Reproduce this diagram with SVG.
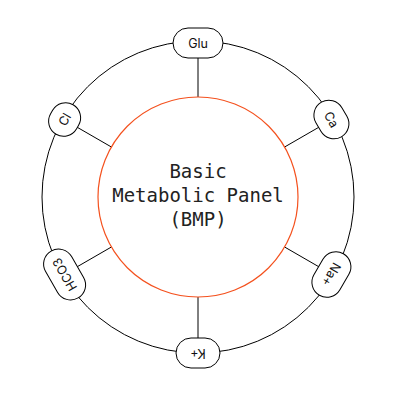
<svg xmlns="http://www.w3.org/2000/svg" width="396" height="396" viewBox="0 0 396 396">
  <style>
    .ring { fill: none; stroke: #000; stroke-width: 1; }
    .core { fill: #fff; stroke: #f4511e; stroke-width: 1.2; }
    .spoke { stroke: #000; stroke-width: 1; }
    .pill { fill: #fff; stroke: #000; stroke-width: 1; }
    .lbl { font-family: Inter, "Liberation Sans", sans-serif; font-size: 12.5px; fill: #111; text-anchor: middle; dominant-baseline: central; }
    .title { font-family: "DejaVu Sans Mono", "Liberation Mono", monospace; font-size: 19px; fill: #222; text-anchor: middle; }
  </style>
  <rect width="396" height="396" fill="#fff"/>
  <circle class="ring" cx="198" cy="197" r="156"/>
  <g id="connectors">
    <!-- spokes at 0, 60, 120, 180, 240, 300 degrees from the top -->
    <line class="spoke" x1="198" y1="97" x2="198" y2="41"/>
    <line class="spoke" x1="284.6" y1="147" x2="333.1" y2="119"/>
    <line class="spoke" x1="284.6" y1="247" x2="333.1" y2="275"/>
    <line class="spoke" x1="198" y1="297" x2="198" y2="353"/>
    <line class="spoke" x1="111.4" y1="247" x2="62.9" y2="275"/>
    <line class="spoke" x1="111.4" y1="147" x2="62.9" y2="119"/>
  </g>
  <g id="bmp">
    <circle class="core" cx="198" cy="197" r="100"/>
    <text class="title" x="198" y="178">Basic</text>
    <text class="title" x="198" y="202">Metabolic Panel</text>
    <text class="title" x="198" y="226">(BMP)</text>
  </g>
  <g id="glu" transform="translate(198,43) rotate(0)">
    <rect class="pill" x="-25" y="-15" width="50" height="30" rx="15"/>
    <text class="lbl" x="0" y="0">Glu</text>
  </g>
  <g id="ca" transform="translate(331.4,119.5) rotate(60)">
    <rect class="pill" x="-20" y="-15" width="40" height="30" rx="15"/>
    <text class="lbl" x="0" y="0">Ca</text>
  </g>
  <g id="na" transform="translate(331.4,274.5) rotate(120)">
    <rect class="pill" x="-24" y="-15" width="48" height="30" rx="15"/>
    <text class="lbl" x="0" y="0">Na+</text>
  </g>
  <g id="k" transform="translate(198,353) rotate(180)">
    <rect class="pill" x="-22" y="-15" width="44" height="30" rx="15"/>
    <text class="lbl" x="0" y="0">K+</text>
  </g>
  <g id="hco3" transform="translate(64.6,274.5) rotate(240)">
    <rect class="pill" x="-27" y="-15" width="54" height="30" rx="15"/>
    <text class="lbl" x="0" y="0">HCO3</text>
  </g>
  <g id="cl" transform="translate(64.6,119.5) rotate(300)">
    <rect class="pill" x="-17" y="-15" width="34" height="30" rx="15"/>
    <text class="lbl" x="0" y="0">Cl</text>
  </g>
</svg>
